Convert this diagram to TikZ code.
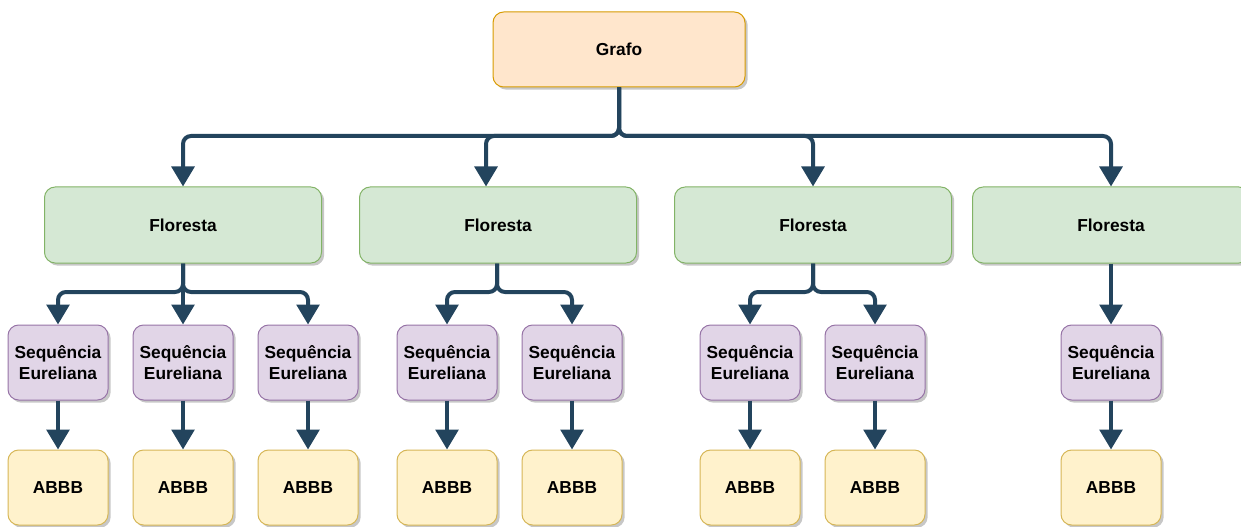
\documentclass[tikz,border=0pt]{standalone}
\usepackage{fontspec}
\setmainfont{Liberation Sans}
\usetikzlibrary{arrows.meta}
\usetikzlibrary{shadows}

\definecolor{grafofill}{HTML}{FFE6CC}
\definecolor{grafoline}{HTML}{D79B00}
\definecolor{florfill}{HTML}{D5E8D4}
\definecolor{florline}{HTML}{82B366}
\definecolor{seqfill}{HTML}{E1D5E7}
\definecolor{seqline}{HTML}{9673A6}
\definecolor{abbbfill}{HTML}{FFF2CC}
\definecolor{abbbline}{HTML}{D6B656}
\definecolor{connblue}{HTML}{23445D}

\tikzset{
    box/.style={draw, line width=0.75pt, rounded corners=8pt, align=center, inner sep=0pt,
        font=\bfseries\fontsize{13}{15.75}\selectfont,
        drop shadow={shadow xshift=2pt, shadow yshift=-2pt, fill=black, opacity=0.22}},
    grafobox/.style={box, fill=grafofill, draw=grafoline, minimum width=189pt, minimum height=56.25pt},
    florbox/.style={box, fill=florfill, draw=florline, minimum width=207.75pt, minimum height=57pt},
    seqbox/.style={box, fill=seqfill, draw=seqline, minimum width=75pt, minimum height=56.25pt},
    abbbbox/.style={box, fill=abbbfill, draw=abbbline, minimum width=75pt, minimum height=56.25pt},
    conn/.style={draw=connblue, line width=3pt, rounded corners=6pt,
        -{Triangle[length=15pt,width=17pt]}}
}

\begin{document}
\begin{tikzpicture}[x=0.75pt,y=-0.75pt]
                \useasboundingbox (0,0) rectangle (1241,527);

                \node[grafobox] (grafo) at (619,49.5) {Grafo};

                \node[florbox] (f1) at (183,225) {Floresta};
                \node[florbox] (f2) at (498,225) {Floresta};
                \node[florbox] (f3) at (813,225) {Floresta};
                \node[florbox] (f4) at (1111,225) {Floresta};

                % sequencias e arvores
                \foreach \name/\x in {s11/58, s12/183, s13/308, s21/447, s22/572, s31/750, s32/875, s41/1111} {
                    \node[seqbox] (\name) at (\x,362.5) {Sequência\\Eureliana};
                    \node[abbbbox] (a\name) at (\x,487.5) {ABBB};
                    \draw[conn] (\name) -- (a\name);
                }

                \coordinate (gjoin) at (619,136);
                \draw[conn] (grafo.south) -- (gjoin) -| (f1.north);
                \draw[conn] (grafo.south) -- (gjoin) -| ([xshift=-9pt]f2.north);
                \draw[conn] (grafo.south) -- (gjoin) -| (f3.north);
                \draw[conn] (grafo.south) -- (gjoin) -| (f4.north);

                \coordinate (j1) at (183,292);
                \draw[conn] (f1.south) -- (j1) -| (s11.north);
                \draw[conn] (f1.south) -- (s12.north);
                \draw[conn] (f1.south) -- (j1) -| (s13.north);

                \coordinate (j2) at (497,292);
                \draw[conn] ([xshift=-0.75pt]f2.south) -- (j2) -| (s21.north);
                \draw[conn] ([xshift=-0.75pt]f2.south) -- (j2) -| (s22.north);

                \coordinate (j3) at (813,292);
                \draw[conn] (f3.south) -- (j3) -| (s31.north);
                \draw[conn] (f3.south) -- (j3) -| (s32.north);

                \draw[conn] (f4.south) -- (s41.north);
            \end{tikzpicture}
\end{document}
